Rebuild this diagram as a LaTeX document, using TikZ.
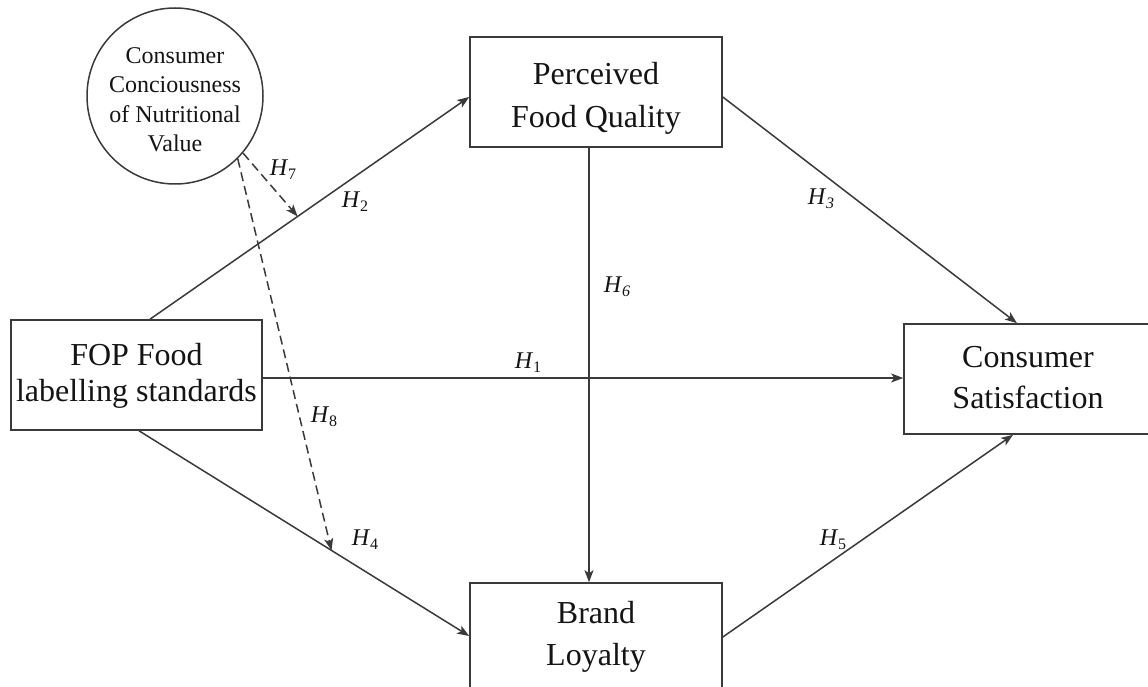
\documentclass[tikz,border=0pt]{standalone}
\usepackage{fontspec}
\setmainfont{Liberation Serif}
\usetikzlibrary{arrows.meta,calc}
\definecolor{linec}{HTML}{3A3A3A}
\definecolor{textc}{HTML}{141414}
\newcommand{\topst}[1]{\rule{0pt}{#1pt}}
\newcommand{\botst}[1]{\rule[-#1pt]{0pt}{#1pt}}
\newcommand{\hypo}[1]{\textit{H}\raisebox{-0.35ex}{\fontsize{16}{16}\selectfont #1}}
\newcommand{\hypoi}[1]{\textit{H}\raisebox{-0.35ex}{\fontsize{16}{16}\selectfont\itshape #1}}
\begin{document}
\begin{tikzpicture}[x=1pt,y=-1pt,
  box/.style={draw=linec, line width=1.6pt, minimum width=252pt, minimum height=110pt,
    inner sep=0pt, align=center, text=textc},
  conn/.style={draw=linec, line width=1.5pt, -{Stealth[length=12pt,width=9pt,inset=3pt]}},
  dconn/.style={conn, dash pattern=on 9pt off 5pt},
  lab/.style={font=\fontsize{24}{24}\selectfont, inner sep=0pt, text=textc}]
\useasboundingbox (0,0) rectangle (1148,687);
\fill[white] (0,0) rectangle (1148,687);
\clip (0,0) rectangle (1148,687);

% boxes
\node[box, font=\fontsize{32}{43}\selectfont] (pfq) at (596,92)
  {\topst{37}Perceived\\Food Quality\botst{8}};
\node[box, minimum width=251pt, font=\fontsize{32}{36}\selectfont] (fop) at (136.5,375)
  {\topst{24}FOP Food\\labelling standards\botst{8}};
\node[box, minimum width=248pt, font=\fontsize{32}{41}\selectfont] (cs) at (1028,379)
  {\topst{25}Consumer\\Satisfaction\botst{8}};
\node[box, font=\fontsize{32}{42}\selectfont] (bl) at (596,638)
  {\topst{22}Brand\\Loyalty\botst{10}};
\node[circle, draw=linec, line width=1.5pt, minimum size=176pt, inner sep=-6pt,
  align=center, text=textc, font=\fontsize{24}{29.5}\selectfont] (ccnv) at (175,96)
  {\topst{27.5}Consumer\\Conciousness\\of Nutritional\\Value\botst{4}};

% connectors
\draw[conn] ($(fop.north)+(13.5,0)$) -- coordinate[pos=0.4625] (h7end) ($(pfq.west)+(0,5)$);
\draw[conn] ($(fop.south)+(2.5,0)$) -- coordinate[pos=0.583] (h8end) ($(bl.west)+(0,-2)$);
\draw[conn] ($(fop.east)+(0,3)$) -- ($(cs.west)+(0,-1)$);
\draw[conn] ($(pfq.south)+(-7,0)$) -- ($(bl.north)+(-7,0)$);
\draw[conn] ($(pfq.east)+(0,5)$) -- ($(cs.north)+(-11,0)$);
\draw[conn] ($(bl.east)+(0,-1)$) -- ($(cs.south)+(-15,0)$);
\draw[dconn] (ccnv.-40) -- (h7end);
\draw[dconn] (ccnv.-45) -- (h8end);

% labels
\node[lab] (l7) at (283,170) {\hypo{7}};
\node[lab] (l2) at (355,202) {\hypo{2}};
\node[lab] (l3) at (821,199) {\hypoi{3}};
\node[lab] (l6) at (617,287) {\hypoi{6}};
\node[lab] (l1) at (528,363) {\hypo{1}};
\node[lab] (l8) at (324,417) {\hypo{8}};
\node[lab] (l4) at (365,540) {\hypo{4}};
\node[lab] (l5) at (833,540) {\hypo{5}};
\end{tikzpicture}
\end{document}
